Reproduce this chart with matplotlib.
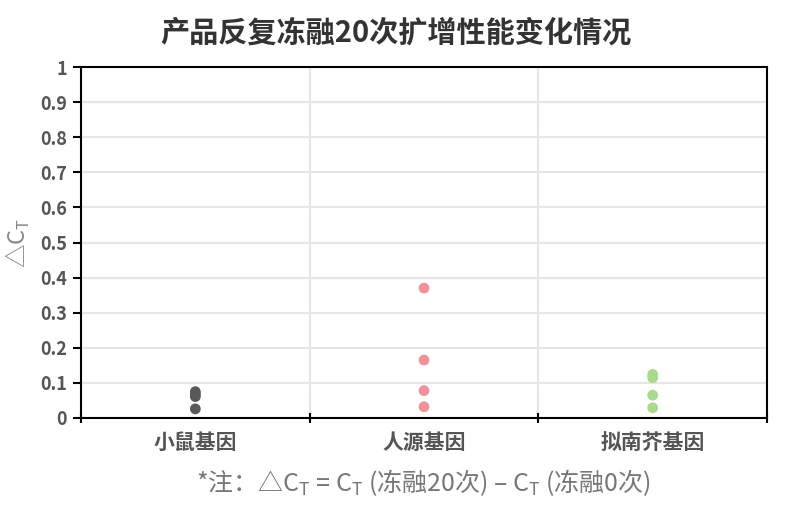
#!/usr/bin/env python3
"""
plot.py
Freeze-thaw stability: delta Ct after 20 cycles, per gene group.
"""
import numpy as np
import matplotlib
matplotlib.use('Agg')
import matplotlib.pyplot as plt
from matplotlib.ticker import FixedLocator

plt.rcParams['font.family'] = ['Noto Sans CJK SC', 'DejaVu Sans']
plt.rcParams['mathtext.fontset'] = 'custom'
plt.rcParams['mathtext.rm'] = 'Noto Sans CJK SC'

# ── Data ─────────────────────────────────────────────────────────────────────
categories = ['小鼠基因', '人源基因', '拟南芥基因']
mouse_vals = [0.075, 0.068, 0.061, 0.026]
human_vals = [0.370, 0.165, 0.078, 0.032]
plant_vals = [0.124, 0.115, 0.065, 0.029]
series = [mouse_vals, human_vals, plant_vals]
colors = ['#595959', '#f0919c', '#a9d98b']
yticks = [0, 0.1, 0.2, 0.3, 0.4, 0.5, 0.6, 0.7, 0.8, 0.9, 1]
ytick_labels = ['0', '0.1', '0.2', '0.3', '0.4', '0.5', '0.6', '0.7', '0.8', '0.9', '1']

# ── Figure ───────────────────────────────────────────────────────────────────
fig = plt.figure(figsize=(7.91, 5.05), dpi=100)
ax = fig.add_axes([0.1024, 0.1723, 0.8673, 0.695])

for i, (vals, c) in enumerate(zip(series, colors)):
    ax.scatter(np.full(len(vals), i), vals, s=60, color=c, edgecolors='none', zorder=3)

ax.set_xlim(-0.5, len(categories) - 0.5)
ax.set_ylim(0, 1)

ax.set_yticks(yticks)
ax.set_yticklabels(ytick_labels)
ax.set_xticks(range(len(categories)))
ax.set_xticklabels(categories)
ax.xaxis.set_minor_locator(FixedLocator(np.arange(-0.5, len(categories), 1.0)))

ax.tick_params(axis='x', which='major', length=0, pad=10, labelsize=15, labelcolor='#555555')
ax.tick_params(axis='x', which='minor', length=7, width=1.5, direction='inout', color='black')
ax.tick_params(axis='y', length=6, width=1.5, color='black', pad=4, labelsize=13, labelcolor='#555555')
for lab in ax.get_xticklabels() + ax.get_yticklabels():
    lab.set_fontweight('bold')

# grid: horizontal at y ticks, vertical at category boundaries
for y in yticks[1:-1]:
    ax.axhline(y, color='#e6e6e6', lw=1.5, zorder=0)
for x in [0.5, 1.5]:
    ax.axvline(x, color='#e6e6e6', lw=1.5, zorder=0)

for sp in ax.spines.values():
    sp.set_color('black')
    sp.set_linewidth(1.5)

ax.set_ylabel(r'△C$_{\mathregular{T}}$', fontsize=17, color='#888888', labelpad=6)

fig.text(0.5, 0.935, '产品反复冻融20次扩增性能变化情况', ha='center', va='center',
         fontsize=21, fontweight='bold', color='#333333')
fig.text(0.535, 0.045,
         r'*注：△C$_{\mathregular{T}}$ = C$_{\mathregular{T}}$ (冻融20次) – C$_{\mathregular{T}}$ (冻融0次)',
         ha='center', va='center', fontsize=18, color='#777777')

fig.savefig('out.png', dpi=100)
